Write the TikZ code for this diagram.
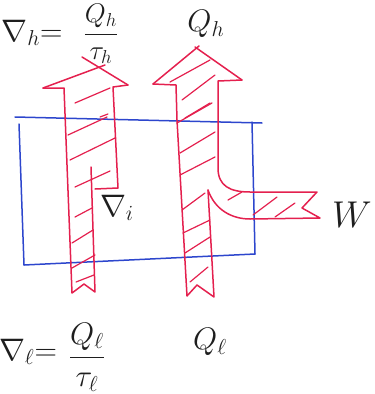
\documentclass[tikz,border=0pt]{standalone}
\usepackage{graphicx}
\usepackage{amsmath}
\definecolor{penred}{RGB}{228,32,78}
\definecolor{penblue}{RGB}{45,70,205}
\definecolor{ink}{RGB}{30,30,30}
\newcommand{\bigtxt}[2][1.5]{\scalebox{#1}{\fontsize{20}{22}\selectfont #2}}
\begin{document}
\begin{tikzpicture}[x=1pt,y=-1pt,
  flow/.style={draw=penred,line width=1.5pt,line join=round,line cap=round},
  hatch/.style={draw=penred,line width=1.2pt,line cap=round},
  box/.style={draw=penblue,line width=1.5pt,line cap=round},
  lab/.style={text=ink,inner sep=0pt}]
\useasboundingbox (0,0) rectangle (375,394);

% system boundary
\draw[box] (15,117) -- (262,123);
\draw[box] (19,124) -- (24,265);
\draw[box] (24,265) -- (255,254);
\draw[box] (252,122) -- (255,254);

% left arrow
\draw[flow] (43,88) -- (105,65);
\draw[flow] (82,57) -- (128,85);
\draw[flow] (43,88) -- (64,88) -- (72,293) -- (84,284) -- (95,292) -- (91,167);
\draw[flow] (128,85) -- (113,87) -- (118,188) -- (95,189);
% hatches left arrow
\draw[hatch] (75,103) -- (110,88);
\draw[hatch] (100,117) -- (108,114);
\draw[hatch] (68,135) -- (107,117);
\draw[hatch] (70,160) -- (115,138);
\draw[hatch] (75,187) -- (110,171);
\draw[hatch] (75,217) -- (92,208);
\draw[hatch] (72,243) -- (93,230);
\draw[hatch] (72,268) -- (95,255);
\draw[hatch] (76,282) -- (94,275);

% right arrow
\draw[flow] (153,84) -- (199,46);
\draw[flow] (195,47) -- (242,80);
\draw[flow] (153,84) -- (176,85) -- (177,120) -- (187,296) -- (197,285) -- (214,297) -- (208,190);
\draw[flow] (242,80) -- (218,81) -- (218,168) .. controls (218,186) and (230,192) .. (250,192)
  -- (317,192) -- (302,208) -- (320,218) -- (250,219) .. controls (232,219) and (215,210) .. (208,190);
% hatches right arrow
\draw[hatch] (170,82) -- (210,60);
\draw[hatch] (182,100) -- (215,75);
\draw[hatch] (185,118) -- (210,103);
\draw[hatch] (177,123) -- (212,103);
\draw[hatch] (180,153) -- (215,132);
\draw[hatch] (180,175) -- (215,157);
\draw[hatch] (182,210) -- (205,193);
\draw[hatch] (183,233) -- (210,220);
\draw[hatch] (185,253) -- (210,237);
\draw[hatch] (190,282) -- (208,267);
\draw[hatch] (228,200) -- (242,192);
\draw[hatch] (253,215) -- (277,197);
\draw[hatch] (275,217) -- (295,203);

% labels
\node[lab] (th) at (32,33) {\bigtxt{$\nabla_{h}{=}$}};
\node[lab] (qh1) at (101,34) {\bigtxt[1.3]{$\dfrac{Q_h}{\tau_h}$}};
\node[lab] (qh2) at (206,24) {\bigtxt{$Q_h$}};
\node[lab] (ti) at (117,208) {\bigtxt{$\nabla_{i}$}};
\node[lab] (w) at (352,215) {\bigtxt[1.8]{$W$}};
\node[lab] (tl) at (28,352) {\bigtxt{$\nabla_{\ell}{=}$}};
\node[lab] (ql1) at (87,357) {\bigtxt{$\dfrac{Q_\ell}{\tau_\ell}$}};
\node[lab] (ql2) at (210,342) {\bigtxt{$Q_\ell$}};
\end{tikzpicture}
\end{document}
